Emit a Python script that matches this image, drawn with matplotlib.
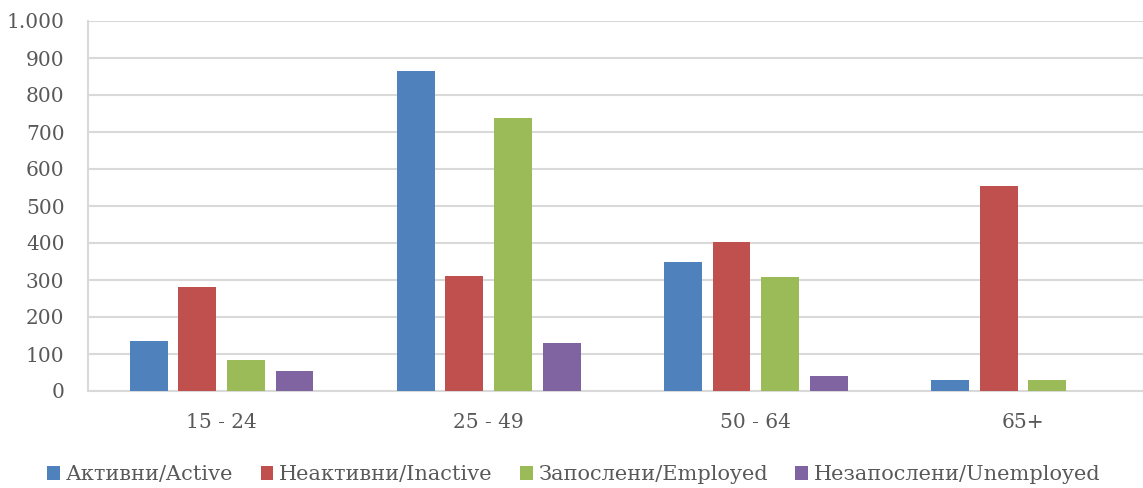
import numpy as np
import matplotlib.pyplot as plt
from matplotlib.ticker import FuncFormatter

categories = ['15 - 24', '25 - 49', '50 - 64', '65+']
series_names = ['Активни/Active', 'Неактивни/Inactive', 'Запослени/Employed', 'Незапослени/Unemployed']
active = [135, 865, 349, 30]
inactive = [281, 311, 403, 554]
employed = [84, 738, 308, 30]
unemployed = [53, 130, 41, 0]
colors = ['#4f81bd', '#c0504d', '#9bbb59', '#8064a2']

plt.rcParams['font.family'] = ['DejaVu Serif']
txt = '#595959'

fig = plt.figure(figsize=(11.43, 4.88), dpi=100)
W, H = 1143, 488
ax = fig.add_axes([88 / W, (H - 391) / H, (1156.5 - 88) / W, (391 - 21) / H])

x = np.arange(len(categories))
step = 0.182
width = 0.142
for i, (vals, name) in enumerate(zip([active, inactive, employed, unemployed], series_names)):
    ax.bar(x + (i - 1.5) * step, vals, width, color=colors[i], label=name, zorder=3)

ax.set_xlim(-0.5, len(categories) - 0.5)
ax.set_ylim(0, 1000)
ax.set_yticks(range(0, 1001, 100))
ax.yaxis.set_major_formatter(FuncFormatter(lambda v, p: f'{int(v):,}'.replace(',', '.')))
ax.set_xticks(x)
ax.set_xticklabels(categories)
ax.grid(axis='y', color='#d9d9d9', linewidth=1.5, zorder=0)
for s in ['top', 'right']:
    ax.spines[s].set_visible(False)
ax.spines['left'].set_color('#d9d9d9')
ax.spines['left'].set_linewidth(1.5)
ax.spines['bottom'].set_color('#d9d9d9')
ax.spines['bottom'].set_linewidth(1.5)
ax.tick_params(axis='both', length=0, labelsize=14.5, colors=txt)
ax.tick_params(axis='y', pad=17)
ax.tick_params(axis='x', pad=16)

leg = fig.legend(loc='center', bbox_to_anchor=(574 / W, (H - 475) / H), ncol=4, frameon=False,
                 fontsize=15, handlelength=0.62, handleheight=0.62, handletextpad=0.28,
                 columnspacing=1.3, labelcolor=txt)

fig.savefig('out.png', dpi=100)
